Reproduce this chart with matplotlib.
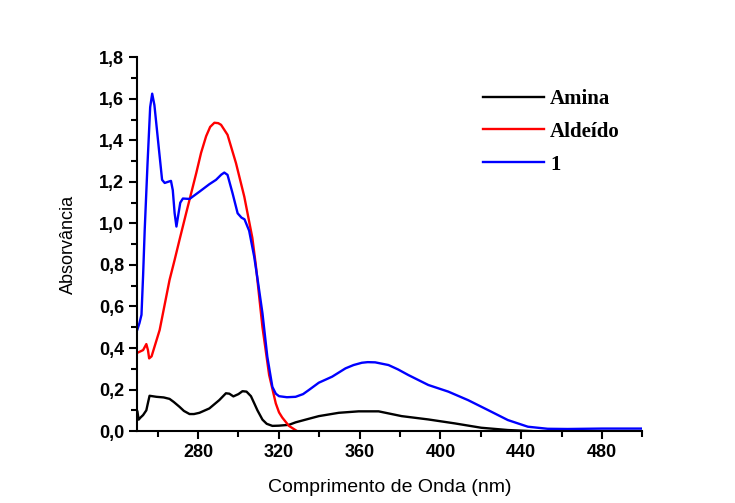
import numpy as np
import matplotlib
matplotlib.use('Agg')
import matplotlib.pyplot as plt
from matplotlib.ticker import MultipleLocator, FuncFormatter

# Amina
wl_amina = [250, 250.6, 251.5, 252.8, 254.4, 255.3, 256.0, 259.4, 263, 265.9, 268, 270.8, 273,
            275.8, 278, 280.7, 285.6, 290.5, 293.8, 295.5, 297.5, 300, 302.0, 304, 306.2, 308,
            309.4, 311.9, 314, 316.8, 320, 325, 328.3, 334, 339.8, 349.7, 359.5, 369.4, 380.8,
            394.0, 407.1, 420.2, 433.4, 445]
abs_amina = [0.093, 0.055, 0.065, 0.077, 0.10, 0.14, 0.17, 0.165, 0.162, 0.155, 0.14, 0.117, 0.097,
             0.082, 0.082, 0.088, 0.109, 0.149, 0.182, 0.18, 0.167, 0.178, 0.192, 0.19, 0.168, 0.13,
             0.10, 0.055, 0.035, 0.025, 0.026, 0.03, 0.042, 0.057, 0.072, 0.088, 0.095, 0.095, 0.072,
             0.056, 0.037, 0.016, 0.005, 0.0]

# Aldeido
wl_ald = [250, 252.8, 254.4, 255.2, 255.8, 257.0, 261.0, 265.9, 268.4, 270.8, 274.1, 279.1, 281.5,
          284.0, 286.0, 288.1, 290.0, 291.4, 294.6, 298.8, 302.9, 306.9, 308.6, 311.9, 315.2, 318.5,
          320.1, 321.7, 325.0, 329.0]
abs_ald = [0.377, 0.39, 0.419, 0.39, 0.35, 0.36, 0.487, 0.728, 0.824, 0.92, 1.049, 1.242, 1.34,
           1.42, 1.465, 1.485, 1.483, 1.475, 1.427, 1.29, 1.129, 0.93, 0.80, 0.5, 0.27, 0.133,
           0.09, 0.065, 0.025, 0.0]

# composto 1
wl_1 = [250.0, 251.0, 252.0, 252.8, 253.6, 255.0, 256.3, 257.3, 258.4, 260.5, 262.2, 263.5, 265.0,
        266.6, 267.5, 268.4, 269.3, 270.2, 271.2, 272.5, 275.8, 280.7, 285.6, 288.9, 291.5, 293.0,
        294.6, 297.1, 299.6, 301.5, 303.0, 305.3, 307.8, 309.5, 311.9, 314.3, 316.8, 318.5, 320.1,
        324, 328.3, 332, 334.9, 339.8, 346.4, 353.0, 357, 361.1, 364, 367.7, 374.3, 379, 384.1,
        394.0, 403.9, 413.7, 423.6, 433.4, 443.3, 453.1, 463, 480, 500]
abs_1 = [0.49, 0.52, 0.56, 0.75, 0.97, 1.29, 1.56, 1.625, 1.57, 1.37, 1.21, 1.195, 1.20,
         1.205, 1.16, 1.05, 0.985, 1.04, 1.10, 1.12, 1.118, 1.153, 1.189, 1.21, 1.235, 1.245,
         1.234, 1.145, 1.049, 1.028, 1.02, 0.965, 0.84, 0.73, 0.567, 0.358, 0.213, 0.18, 0.168,
         0.163, 0.165, 0.178, 0.198, 0.233, 0.262, 0.302, 0.318, 0.329, 0.332, 0.331, 0.318, 0.297, 0.27,
         0.222, 0.19, 0.149, 0.101, 0.053, 0.021, 0.011, 0.01, 0.012, 0.012]

fig = plt.figure(figsize=(7.35, 5.03), dpi=100)
ax = fig.add_axes([0.187, 0.143, 0.687, 0.743])

ax.plot(wl_amina, abs_amina, color='black', lw=1.7, label='Amina')
ax.plot(wl_ald, abs_ald, color='#ff0000', lw=1.7, label='Aldeído')
ax.plot(wl_1, abs_1, color='#0000ff', lw=1.7, label='1')

ax.set_xlim(250, 500)
ax.set_ylim(0, 1.8)
ax.set_xticks([280, 320, 360, 400, 440, 480])
ax.xaxis.set_minor_locator(MultipleLocator(20))
ax.yaxis.set_major_locator(MultipleLocator(0.2))
ax.yaxis.set_minor_locator(MultipleLocator(0.1))
ax.yaxis.set_major_formatter(FuncFormatter(lambda v, p: f'{v:.1f}'.replace('.', ',')))

for s in ['top', 'right']:
    ax.spines[s].set_visible(False)
for s in ['left', 'bottom']:
    ax.spines[s].set_linewidth(1.5)
ax.tick_params(which='major', direction='out', length=6, width=1.5)
ax.tick_params(which='minor', direction='out', length=4, width=1.5)
for lab in ax.get_xticklabels() + ax.get_yticklabels():
    lab.set_fontfamily('Liberation Sans')
    lab.set_fontweight('bold')
    lab.set_fontsize(13)

ax.set_xlabel('Comprimento de Onda (nm)', fontfamily='Liberation Sans', fontsize=14, labelpad=13)
ax.set_ylabel('Absorvância', fontfamily='Liberation Sans', fontsize=13, labelpad=16)

leg = ax.legend(loc='upper left', bbox_to_anchor=(0.648, 0.966), frameon=False,
                prop={'family': 'Liberation Serif', 'weight': 'bold', 'size': 15},
                handlelength=2.9, labelspacing=0.62, handletextpad=0.3)

fig.savefig('out.png', dpi=100)
